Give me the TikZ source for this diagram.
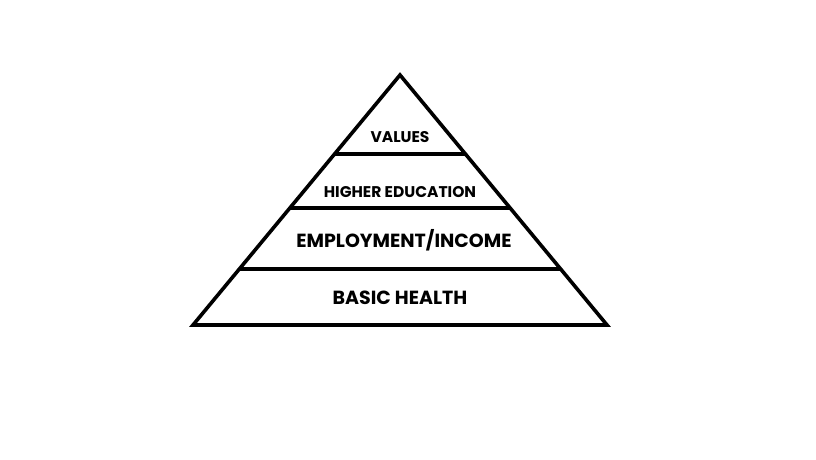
\documentclass[tikz,border=0pt]{standalone}
\usepackage{fontspec}
\setmainfont{Poppins}
\usetikzlibrary{positioning,calc}

\begin{document}
\begin{tikzpicture}[
  x=1pt,y=-1pt,
  tier/.style={line width=3.6pt,line join=miter},
  small/.style={font=\bfseries\fontsize{15.5}{17}\selectfont,inner sep=0pt},
  big/.style={font=\bfseries\fontsize{19}{21}\selectfont,inner sep=0pt}
]
\useasboundingbox (0,0) rectangle (816,460);
% pyramid outline
\coordinate (apex) at (400,75);
\coordinate (baseL) at (193,325);
\coordinate (baseR) at (607,325);
\draw[tier] (apex) -- (baseL) -- (baseR) -- cycle;
% tier separators
\foreach \t in {0.316,0.532,0.776}
  \draw[tier] ($(apex)!\t!(baseL)$) -- ($(apex)!\t!(baseR)$);
% labels
\node[small] (values) at (400,137) {VALUES};
\node[small] (educ) at (400,192) {HIGHER EDUCATION};
\node[big] (income) at (404,240) {EMPLOYMENT/INCOME};
\node[big] (health) at (400,298) {BASIC HEALTH};
\end{tikzpicture}
\end{document}
